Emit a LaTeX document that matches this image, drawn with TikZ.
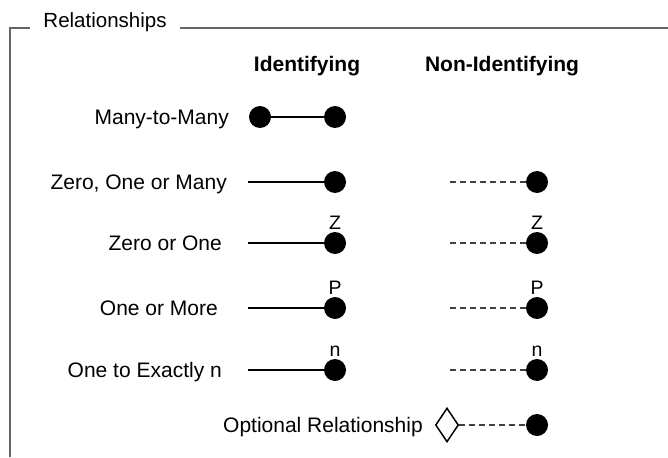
\documentclass[tikz,border=0pt]{standalone}
\usepackage{fontspec}
\setmainfont{Liberation Sans}
\usepackage{tikz}
\usetikzlibrary{positioning,shapes.geometric}

\tikzset{
  lbl/.style={font=\fontsize{21}{25}\selectfont, inner sep=0pt, anchor=base east, yshift=-7.5pt},
  hdr/.style={font=\fontsize{21}{25}\selectfont\bfseries, inner sep=0pt, anchor=base, yshift=-7.5pt},
  ttl/.style={font=\fontsize{20.5}{24}\selectfont, inner sep=0pt, anchor=base, yshift=-7.5pt},
  blob/.style={circle, fill=black, minimum size=22pt, inner sep=0pt},
  idline/.style={line width=2.8pt},
  nonline/.style={line width=1.4pt, draw=black!75, dash pattern=on 6pt off 4pt},
  tag/.style={font=\fontsize{19.5}{22}\selectfont, inner sep=0pt, anchor=south},
  frame/.style={line width=2pt, draw=black!60},
  opt/.style={diamond, draw, line width=1.5pt, minimum width=23pt, minimum height=34pt, inner sep=0pt}
}

\begin{document}
\begin{tikzpicture}[x=1pt,y=-1pt]
\useasboundingbox (0,0) rectangle (668,457);

% frame
\node[ttl] (ttl) at (105,20) {Relationships};
\draw[frame] (30,28) -- (10,28) -- (10,457);
\draw[frame] (180,28) -- (668,28);

% headers
\node[hdr] (hid) at (307,64) {Identifying};
\node[hdr] (hnon) at (502,64) {Non-Identifying};

% many to many
\node[lbl] (l1) at (229,117) {Many-to-Many};
\node[blob] (m1) at (260,117) {};
\node[blob] (m2) at (335,117) {};
\draw[idline] (m1) -- (m2);

% zero, one or many
\node[lbl] (l2) at (227,182) {Zero, One or Many};
\coordinate (s2) at (248,182);
\node[blob] (a2) at (335,182) {};
\draw[idline] (s2) -- (a2);
\coordinate (t2) at (450,182);
\node[blob] (b2) at (537,182) {};
\draw[nonline] (t2) -- (b2);

% rows with a letter
\foreach \row/\xl/\ypos/\txt/\tg in {3/222/243/Zero or One/Z, 4/218/308/One or More/P, 5/222/370/One to Exactly n/n}{
    \node[lbl] (l\row) at (\xl,\ypos) {\txt};
    \coordinate (s\row) at (248,\ypos);
    \node[blob] (a\row) at (335,\ypos) {};
    \draw[idline] (s\row) -- (a\row);
    \node[tag, above=2pt of a\row] (za\row) {\tg};
    \coordinate (t\row) at (450,\ypos);
    \node[blob] (b\row) at (537,\ypos) {};
    \draw[nonline] (t\row) -- (b\row);
    \node[tag, above=2pt of b\row] (zb\row) {\tg};
}

% optional
\node[lbl] (l6) at (423,425) {Optional Relationship};
\node[opt] (dia) at (447,425) {};
\node[blob] (b6) at (537,425) {};
\draw[nonline] (dia) -- (b6);

\end{tikzpicture}
\end{document}
